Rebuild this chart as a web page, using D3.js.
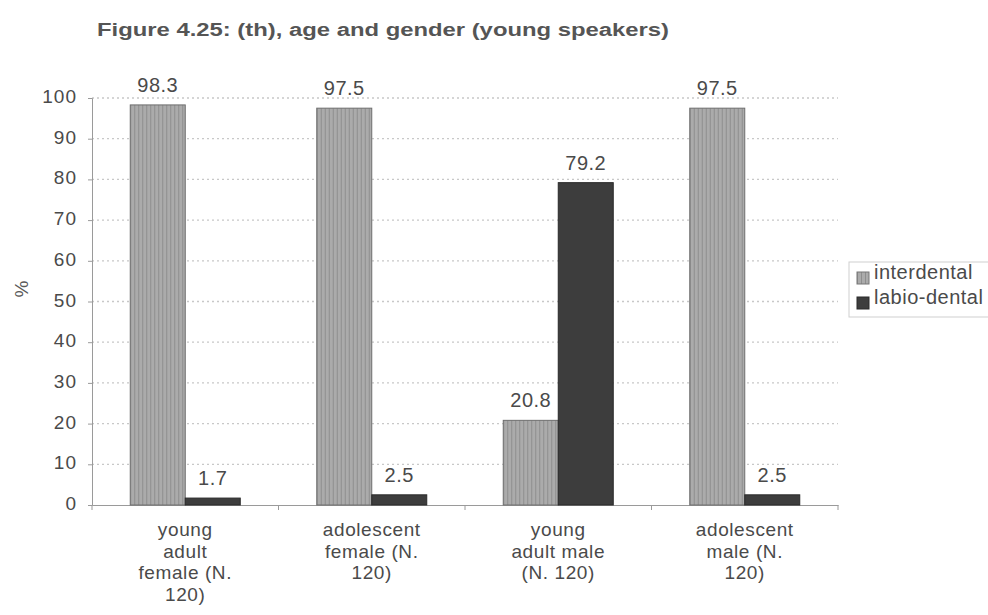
<!DOCTYPE html>
<html>
<head>
<meta charset="utf-8">
<script src="https://cdn.jsdelivr.net/npm/d3@7"></script>
<style>
  html, body { margin: 0; padding: 0; background: #fff; }
  svg { display: block; font-family: Arial, "Liberation Sans", sans-serif; }
</style>
</head>
<body>
<svg id="chart" width="988" height="615"></svg>
<script>
// Categories and their wrapped axis labels
const categories = ["young adult female (N. 120)", "adolescent female (N. 120)", "young adult male (N. 120)", "adolescent male (N. 120)"];
const categoryLines = [
  ["young", "adult", "female (N.", "120)"],
  ["adolescent", "female (N.", "120)"],
  ["young", "adult male", "(N. 120)"],
  ["adolescent", "male (N.", "120)"]
];
const seriesNames = ["interdental", "labio-dental"];
const interdental = [98.3, 97.5, 20.8, 97.5];
const labioDental = [1.7, 2.5, 79.2, 2.5];
const yTicks = [0, 10, 20, 30, 40, 50, 60, 70, 80, 90, 100];

const svg = d3.select("#chart");
const margin = { left: 92, right: 150, top: 98, bottom: 110 };
const W = 988, H = 615;
const plotW = W - margin.left - margin.right;
const plotH = H - margin.top - margin.bottom;
const textCol = "#4a4a4a";

const defs = svg.append("defs");
const stripe = defs.append("pattern")
  .attr("id", "stripes").attr("patternUnits", "userSpaceOnUse")
  .attr("width", 4).attr("height", 10);
stripe.append("rect").attr("width", 4).attr("height", 10).attr("fill", "#ababab");
stripe.append("rect").attr("x", 0).attr("width", 1).attr("height", 10).attr("fill", "#8e8e8e");

const g = svg.append("g").attr("transform", `translate(${margin.left},${margin.top})`);

const x = d3.scaleBand().domain(categories).range([0, plotW]).paddingInner(0).paddingOuter(0);
const xs = d3.scaleBand().domain(seriesNames).range([0, 110]);
const y = d3.scaleLinear().domain([0, 100]).range([plotH, 0]);

// Dotted gridlines
g.append("g").selectAll("line").data(yTicks.filter(d => d > 0)).join("line")
  .attr("x1", 0).attr("x2", plotW)
  .attr("y1", d => y(d)).attr("y2", d => y(d))
  .attr("stroke", "#c8c8c8").attr("stroke-width", 1.3)
  .attr("stroke-dasharray", "2,3");

// Y axis
const yAxis = g.append("g").call(d3.axisLeft(y).tickValues(yTicks).tickSize(4).tickPadding(11));
yAxis.select(".domain").attr("stroke", "#9a9a9a");
yAxis.selectAll(".tick line").attr("stroke", "#9a9a9a");
yAxis.selectAll("text").attr("font-size", 19).attr("letter-spacing", 1)
  .attr("fill", textCol).attr("dy", "0.24em");

// X axis
const xAxis = g.append("g").attr("transform", `translate(0,${plotH})`)
  .call(d3.axisBottom(x).tickSize(0).tickFormat(""));
xAxis.select(".domain").attr("stroke", "#9a9a9a");
g.append("g").selectAll("line").data(d3.range(categories.length + 1)).join("line")
  .attr("x1", i => i * x.bandwidth()).attr("x2", i => i * x.bandwidth())
  .attr("y1", plotH).attr("y2", plotH + 5)
  .attr("stroke", "#9a9a9a");

// Category labels
categories.forEach((c, i) => {
  const cx = x(c) + x.bandwidth() / 2;
  const t = g.append("text")
    .attr("x", cx)
    .attr("y", plotH + 31)
    .attr("text-anchor", "middle")
    .attr("font-size", 19).attr("letter-spacing", 0.6).attr("fill", textCol);
  categoryLines[i].forEach((ln, j) => {
    t.append("tspan").attr("x", cx).attr("dy", j === 0 ? 0 : 21.5).text(ln);
  });
});

// Bars
const rows = categories.map((c, i) => ({ c, vals: [interdental[i], labioDental[i]] }));
const groups = g.append("g").selectAll("g").data(rows).join("g")
  .attr("transform", d => `translate(${x(d.c) + (x.bandwidth() - 110) / 2},0)`);

groups.selectAll("rect").data(d => d.vals.map((v, k) => ({ k, v }))).join("rect")
  .attr("x", d => xs(seriesNames[d.k]))
  .attr("width", xs.bandwidth())
  .attr("y", d => y(d.v))
  .attr("height", d => plotH - y(d.v))
  .attr("fill", d => d.k === 0 ? "url(#stripes)" : "#3d3d3d")
  .attr("stroke", d => d.k === 0 ? "#6e6e6e" : "#2a2a2a")
  .attr("stroke-width", 1);

groups.selectAll("text").data(d => d.vals.map((v, k) => ({ k, v }))).join("text")
  .attr("x", d => xs(seriesNames[d.k]) + xs.bandwidth() / 2)
  .attr("y", d => y(d.v) - 13)
  .attr("text-anchor", "middle")
  .attr("font-size", 20).attr("letter-spacing", 0.5).attr("fill", textCol)
  .text(d => d.v);

// Y axis title
svg.append("text")
  .attr("transform", "translate(28,289) rotate(-90)")
  .attr("text-anchor", "middle")
  .attr("font-size", 19).attr("fill", "#5a5a5a")
  .text("%");

// Title
svg.append("text")
  .attr("x", 97).attr("y", 36)
  .attr("font-size", 18).attr("font-weight", "bold").attr("fill", "#555")
  .attr("textLength", 572).attr("lengthAdjust", "spacingAndGlyphs")
  .text("Figure 4.25: (th), age and gender (young speakers)");

// Legend
const lg = svg.append("g").attr("transform", "translate(849,262)");
lg.append("rect").attr("width", 150).attr("height", 55)
  .attr("fill", "#fff").attr("stroke", "#cfcfcf");
seriesNames.forEach((s, i) => {
  lg.append("rect").attr("x", 8).attr("y", 10 + i * 25).attr("width", 12).attr("height", 12)
    .attr("fill", i === 0 ? "url(#stripes)" : "#3d3d3d")
    .attr("stroke", i === 0 ? "#777" : "#2a2a2a");
  lg.append("text").attr("x", 25).attr("y", 17 + i * 25)
    .attr("font-size", 20).attr("letter-spacing", 0.5).attr("fill", textCol).text(s);
});
</script>
</body>
</html>
